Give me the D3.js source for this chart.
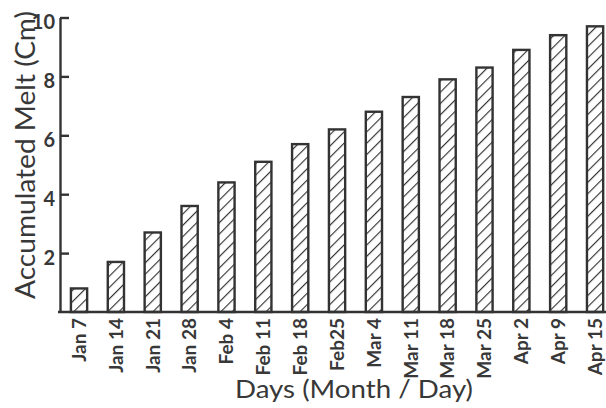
<!DOCTYPE html>
<html>
<head>
<meta charset="utf-8">
<script src="https://cdn.jsdelivr.net/npm/d3@7"></script>
<style>
  html, body { margin: 0; padding: 0; background: #fff; }
  svg { display: block; }
  text { font-family: Lato, "DejaVu Sans", sans-serif; fill: #383838; }
</style>
</head>
<body>
<svg id="chart" width="606" height="408"></svg>
<script>
// Weekly sampling dates
const categories = ["Jan 7", "Jan 14", "Jan 21", "Jan 28", "Feb 4", "Feb 11", "Feb 18", "Feb25",
                    "Mar 4", "Mar 11", "Mar 18", "Mar 25", "Apr 2", "Apr 9", "Apr 15"];
// Accumulated melt (cm)
const melt = [0.8, 1.7, 2.7, 3.6, 4.4, 5.1, 5.7, 6.2, 6.8, 7.3, 7.9, 8.3, 8.9, 9.4, 9.7];
const yTicks = [2, 4, 6, 8, 10];
const yTitle = "Accumulated  Melt (Cm)";
const xTitle = "Days (Month / Day)";

const ink = "#333";
const svg = d3.select("#chart");

const x = d3.scaleBand()
  .domain(categories)
  .range([60.6, 613.5])
  .paddingInner(0.56)
  .paddingOuter(0.28);

const y = d3.scaleLinear().domain([0, 10]).range([312, 17.5]);

// diagonal hatching for the bars
const defs = svg.append("defs");
defs.append("pattern")
  .attr("id", "hatch")
  .attr("patternUnits", "userSpaceOnUse")
  .attr("width", 8).attr("height", 8)
  .attr("patternTransform", "rotate(45)")
  .append("line")
  .attr("x1", 0).attr("y1", 0).attr("x2", 0).attr("y2", 8)
  .attr("stroke", ink).attr("stroke-width", 2.3);

// bars
svg.append("g").selectAll("rect")
  .data(melt)
  .join("rect")
  .attr("x", (d, i) => x(categories[i]))
  .attr("y", d => y(d))
  .attr("width", x.bandwidth())
  .attr("height", d => y(0) - y(d))
  .attr("fill", "url(#hatch)")
  .attr("stroke", ink)
  .attr("stroke-width", 2.4);

// y axis with inward ticks
const yAxis = svg.append("g")
  .attr("transform", "translate(60,0)")
  .call(d3.axisLeft(y).tickValues(yTicks).tickSize(-9).tickSizeOuter(0).tickPadding(5));
yAxis.select(".domain").attr("stroke", ink).attr("stroke-width", 2.4);
yAxis.selectAll(".tick line").attr("stroke", ink).attr("stroke-width", 2.4);
yAxis.selectAll(".tick text")
  .attr("y", 5)
  .style("font-size", "20px")
  .style("font-weight", "bold")
  .style("font-family", "Lato, sans-serif")
  .attr("fill", "#383838");

// baseline
svg.append("line")
  .attr("x1", 58).attr("x2", 606)
  .attr("y1", y(0)).attr("y2", y(0))
  .attr("stroke", ink).attr("stroke-width", 2.4);

// x axis labels, rotated
const xAxis = svg.append("g")
  .attr("transform", `translate(0,${y(0)})`)
  .call(d3.axisBottom(x).tickSize(0));
xAxis.select(".domain").remove();
xAxis.selectAll(".tick text")
  .attr("transform", "rotate(-90)")
  .attr("x", -6)
  .attr("y", 0)
  .attr("dy", "0.36em")
  .attr("text-anchor", "end")
  .style("font-size", "19px")
  .style("font-weight", "bold")
  .style("font-family", "Lato, sans-serif")
  .attr("fill", "#383838");

// axis titles
svg.append("text")
  .attr("transform", "translate(35,155) rotate(-90)")
  .attr("text-anchor", "middle")
  .attr("textLength", 288)
  .attr("lengthAdjust", "spacingAndGlyphs")
  .style("font-size", "26px")
  .text(yTitle);

svg.append("text")
  .attr("x", 354).attr("y", 398)
  .attr("text-anchor", "middle")
  .attr("textLength", 238)
  .attr("lengthAdjust", "spacingAndGlyphs")
  .style("font-size", "25px")
  .text(xTitle);
</script>
</body>
</html>
